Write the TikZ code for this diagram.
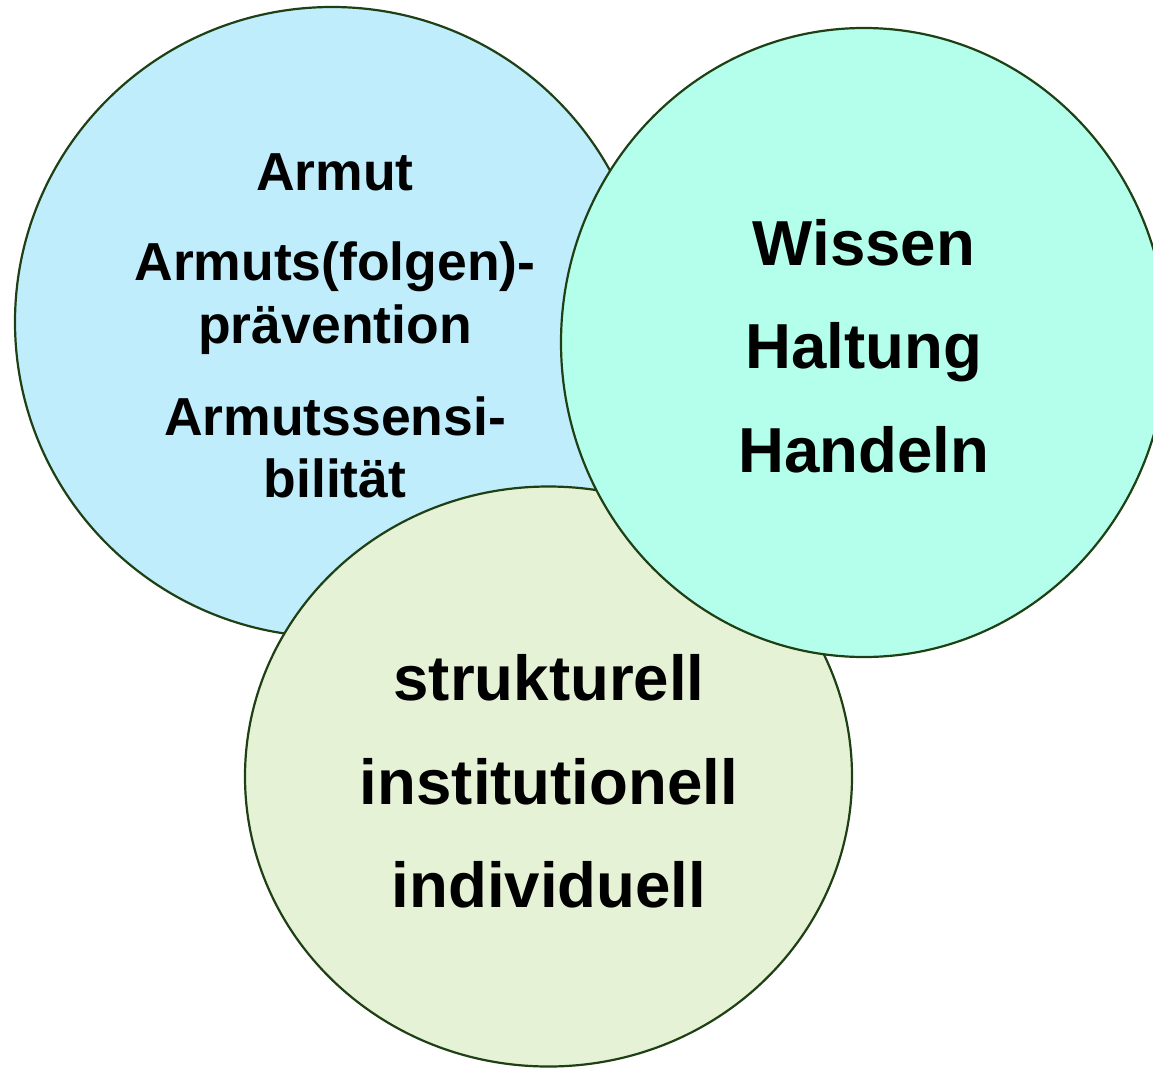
\documentclass[tikz,border=0pt]{standalone}
\usepackage{fontspec}
\setmainfont{Liberation Sans}
\usepackage{tikz}
\definecolor{ringline}{RGB}{30,64,20}
\definecolor{armutblue}{RGB}{192,237,251}
\definecolor{wissenmint}{RGB}{180,255,235}
\definecolor{ebenegreen}{RGB}{230,242,213}

\begin{document}
\begin{tikzpicture}[x=1pt,y=-1pt]
    \tikzstyle{ring}=[draw=ringline,line width=2.2pt]
    \tikzstyle{small label}=[anchor=base,inner sep=0pt,font=\fontsize{53.5}{63}\selectfont\bfseries]
    \tikzstyle{big label}=[anchor=base,inner sep=0pt,font=\fontsize{63.6}{75}\selectfont\bfseries]
    \useasboundingbox (0,0) rectangle (1153,1068);
    \clip (0,0) rectangle (1153,1068);
    \fill[white] (0,0) rectangle (1153,1068);
    % the three rings
    \path[ring,fill=armutblue] (332,322) ellipse [x radius=317pt,y radius=315pt];
    \path[ring,fill=ebenegreen] (548.5,776.5) ellipse [x radius=303.5pt,y radius=290pt];
    \path[ring,fill=wissenmint] (864,342.5) ellipse [x radius=303pt,y radius=314.5pt];
    % armut ring
    \node[small label] (armut) at (335,190) {Armut};
    \node[small label] (praev1) at (335,280) {Armuts(folgen)-};
    \node[small label] (praev2) at (335,343) {prävention};
    \node[small label] (sensi1) at (335,435) {Armutssensi-};
    \node[small label] (sensi2) at (335,497) {bilität};
    % wissen ring
    \node[big label] (wissen) at (864,265) {Wissen};
    \node[big label] (haltung) at (864,368) {Haltung};
    \node[big label] (handeln) at (864,472) {Handeln};
    % ebenen ring
    \node[big label] (strukt) at (549,700) {strukturell};
    \node[big label] (instit) at (549,804) {institutionell};
    \node[big label] (indiv) at (549,907) {individuell};
\end{tikzpicture}
\end{document}
